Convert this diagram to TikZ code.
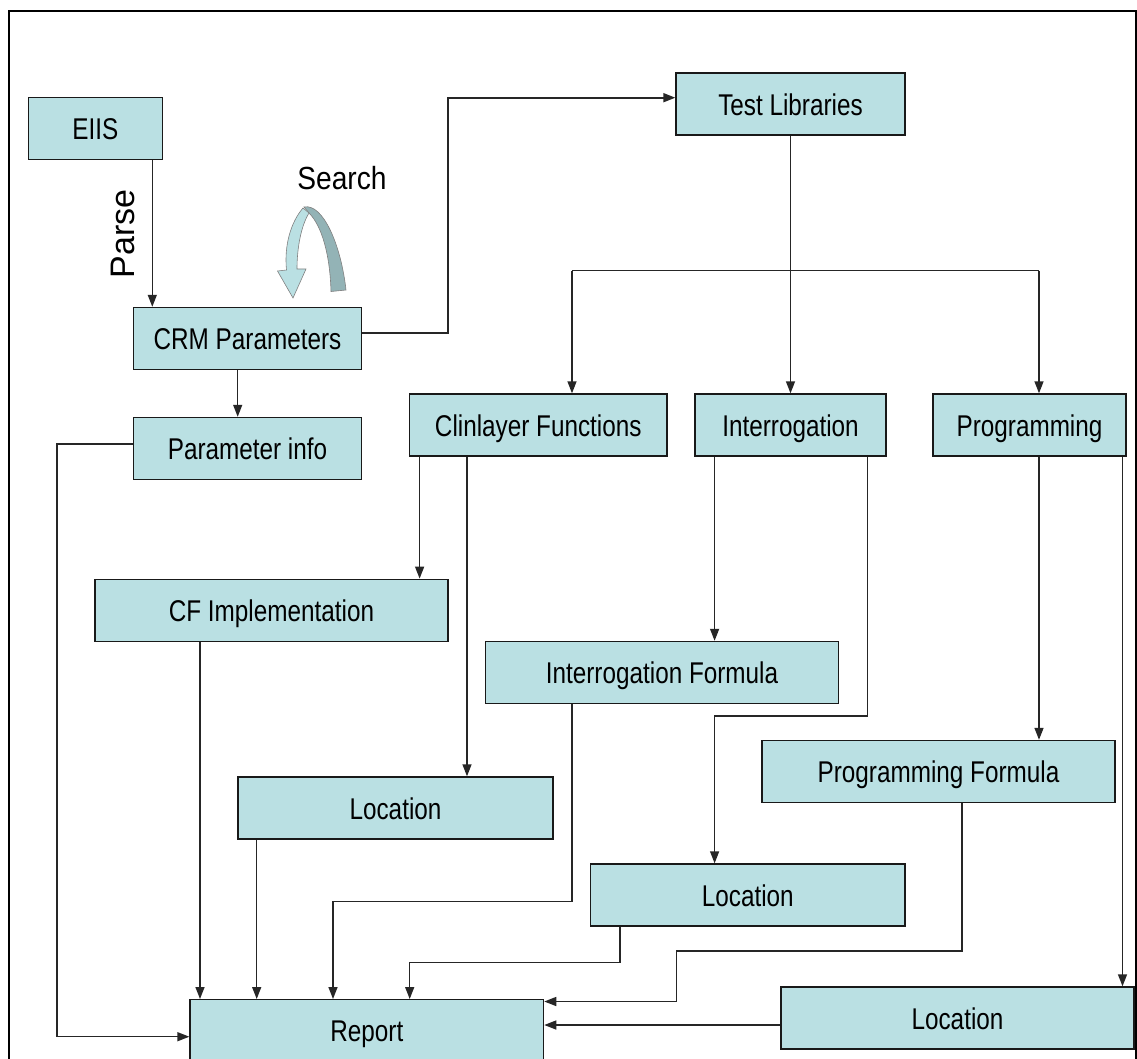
\documentclass[tikz,border=0pt]{standalone}
\usepackage{fontspec}
\setmainfont{Liberation Sans}[FakeStretch=0.81]
\newfontfamily\parsefont{Liberation Sans}
\newfontfamily\searchfont{Liberation Sans}[FakeStretch=0.88]
\usetikzlibrary{arrows.meta}
\definecolor{boxfill}{HTML}{BAE0E3}
\definecolor{ribdark}{HTML}{93B3B6}
\definecolor{riblight}{HTML}{BAE0E3}
\begin{document}
\begin{tikzpicture}[x=1pt,y=-1pt,
  box/.style={draw=black!90, line width=1.4pt, fill=boxfill, inner sep=0pt,
    minimum height=62pt, text height=22pt, text depth=0pt,
    font=\fontsize{30}{32}\selectfont},
  conn/.style={draw=black!85, line width=1.4pt},
  arr/.style={conn, -{Triangle[length=12pt,width=9pt]}}]
\useasboundingbox (0,0) rectangle (1137,1059);
\clip (0,0) rectangle (1137,1059);
\fill[white] (0,0) rectangle (1137,1059);
% frame
\draw[line width=2.4pt] (8.7,1075) -- (8.7,11) -- (1135.8,11) -- (1135.8,1075);

% nodes
\node[box, minimum width=134pt]   (eiis)  at (95.3,128.5)  {EIIS};
\node[box, minimum width=228.4pt] (crm)   at (247.5,338.5) {CRM Parameters};
\node[box, minimum width=228.4pt] (pinfo) at (247.5,448.5) {Parameter info};
\node[box, minimum width=229pt]   (tl)    at (790.5,104.2) {Test Libraries};
\node[box, minimum width=257.5pt] (cl)    at (538.3,425)   {Clinlayer Functions};
\node[box, minimum width=191pt]   (intr)  at (790.5,425)   {Interrogation};
\node[box, minimum width=193pt]   (prog)  at (1029.5,425)  {Programming};
\node[box, minimum width=353pt]   (cfi)   at (271.5,610.3) {CF Implementation};
\node[box, minimum width=353pt]   (iform) at (662,672.5)   {Interrogation Formula};
\node[box, minimum width=315pt]   (loc1)  at (395.5,808)   {Location};
\node[box, minimum width=353pt]   (pform) at (938.5,771.5) {Programming Formula};
\node[box, minimum width=314.4pt] (loc2)  at (747.8,895)   {Location};
\node[box, minimum width=353.5pt] (rep)   at (366.8,1030.7){Report};
\node[box, minimum width=353pt]   (loc3)  at (957.5,1018)  {Location};

% labels
\node[font=\parsefont\fontsize{34}{36}\selectfont, rotate=90, inner sep=0pt] (parse) at (123,234) {Parse};
\node[font=\searchfont\fontsize{32}{34}\selectfont, inner sep=0pt] (search) at (342,178) {Search};

% search ribbon arrow
\filldraw[fill=ribdark, draw=black!50, line width=0.6pt]
  (304,207) .. controls (323,203) and (341,245) .. (346,290) -- (331,291.5)
  .. controls (330,255) and (322,226) .. (309,213) -- cycle;
\filldraw[fill=riblight, draw=black!50, line width=0.6pt]
  (303,208) .. controls (291,222) and (284,245) .. (286.5,270) -- (277.5,271)
  -- (293,298) -- (306,269) -- (297,269)
  .. controls (297,248) and (301,226) .. (309,213) -- cycle;

% helper coordinates
\coordinate (p1) at (152.3,0);
\coordinate (p2) at (237.7,0);
\coordinate (k1) at (447.7,332.7);
\coordinate (k2) at (447.7,97.7);
\coordinate (f1) at (572,270.7);
\coordinate (f2) at (1039,270.7);
\coordinate (p3) at (419.6,0);
\coordinate (p4) at (467,0);
\coordinate (p5) at (714.6,0);
\coordinate (i1) at (867.7,716);
\coordinate (i2) at (714.6,716);
\coordinate (p6) at (1122.5,0);
\coordinate (p7) at (200,0);
\coordinate (p8) at (256.7,0);
\coordinate (g1) at (572,901.6);
\coordinate (g2) at (333,901.6);
\coordinate (h1) at (620,962.3);
\coordinate (h2) at (409.7,962.3);
\coordinate (m1) at (962,950.8);
\coordinate (m2) at (676.5,950.8);
\coordinate (m3) at (676.5,1001.5);
\coordinate (n1) at (0,1025);
\coordinate (q1) at (57,444);
\coordinate (q2) at (57,1036.7);

% connectors
\draw[arr] (eiis.south -| p1) -- (crm.north -| p1);
\draw[arr] (crm.south -| p2) -- (pinfo.north -| p2);
\draw[arr, line width=1.8pt] (crm.east |- k1) -- (k1) -- (k2) -- (tl.west |- k2);
\draw[arr] (tl.south) -- (intr.north);
\draw[conn] (f1) -- (f2);
\draw[arr] (f1) -- (cl.north -| f1);
\draw[arr] (f2) -- (prog.north -| f2);
\draw[arr] (cl.south -| p3) -- (cfi.north -| p3);
\draw[arr] (cl.south -| p4) -- (loc1.north -| p4);
\draw[arr] (intr.south -| p5) -- (iform.north -| p5);
\draw[arr] (intr.south -| i1) -- (i1) -- (i2) -- (loc2.north -| i2);
\draw[arr] (prog.south -| f2) -- (pform.north -| f2);
\draw[arr] (prog.south -| p6) -- (loc3.north -| p6);
\draw[arr] (cfi.south -| p7) -- (rep.north -| p7);
\draw[arr] (loc1.south -| p8) -- (rep.north -| p8);
\draw[arr] (iform.south -| g1) -- (g1) -- (g2) -- (rep.north -| g2);
\draw[arr] (loc2.south -| h1) -- (h1) -- (h2) -- (rep.north -| h2);
\draw[arr] (pform.south -| m1) -- (m1) -- (m2) -- (m3) -- (rep.east |- m3);
\draw[arr] (loc3.west |- n1) -- (rep.east |- n1);
\draw[arr] (pinfo.west |- q1) -- (q1) -- (q2) -- (rep.west |- q2);
\end{tikzpicture}
\end{document}
